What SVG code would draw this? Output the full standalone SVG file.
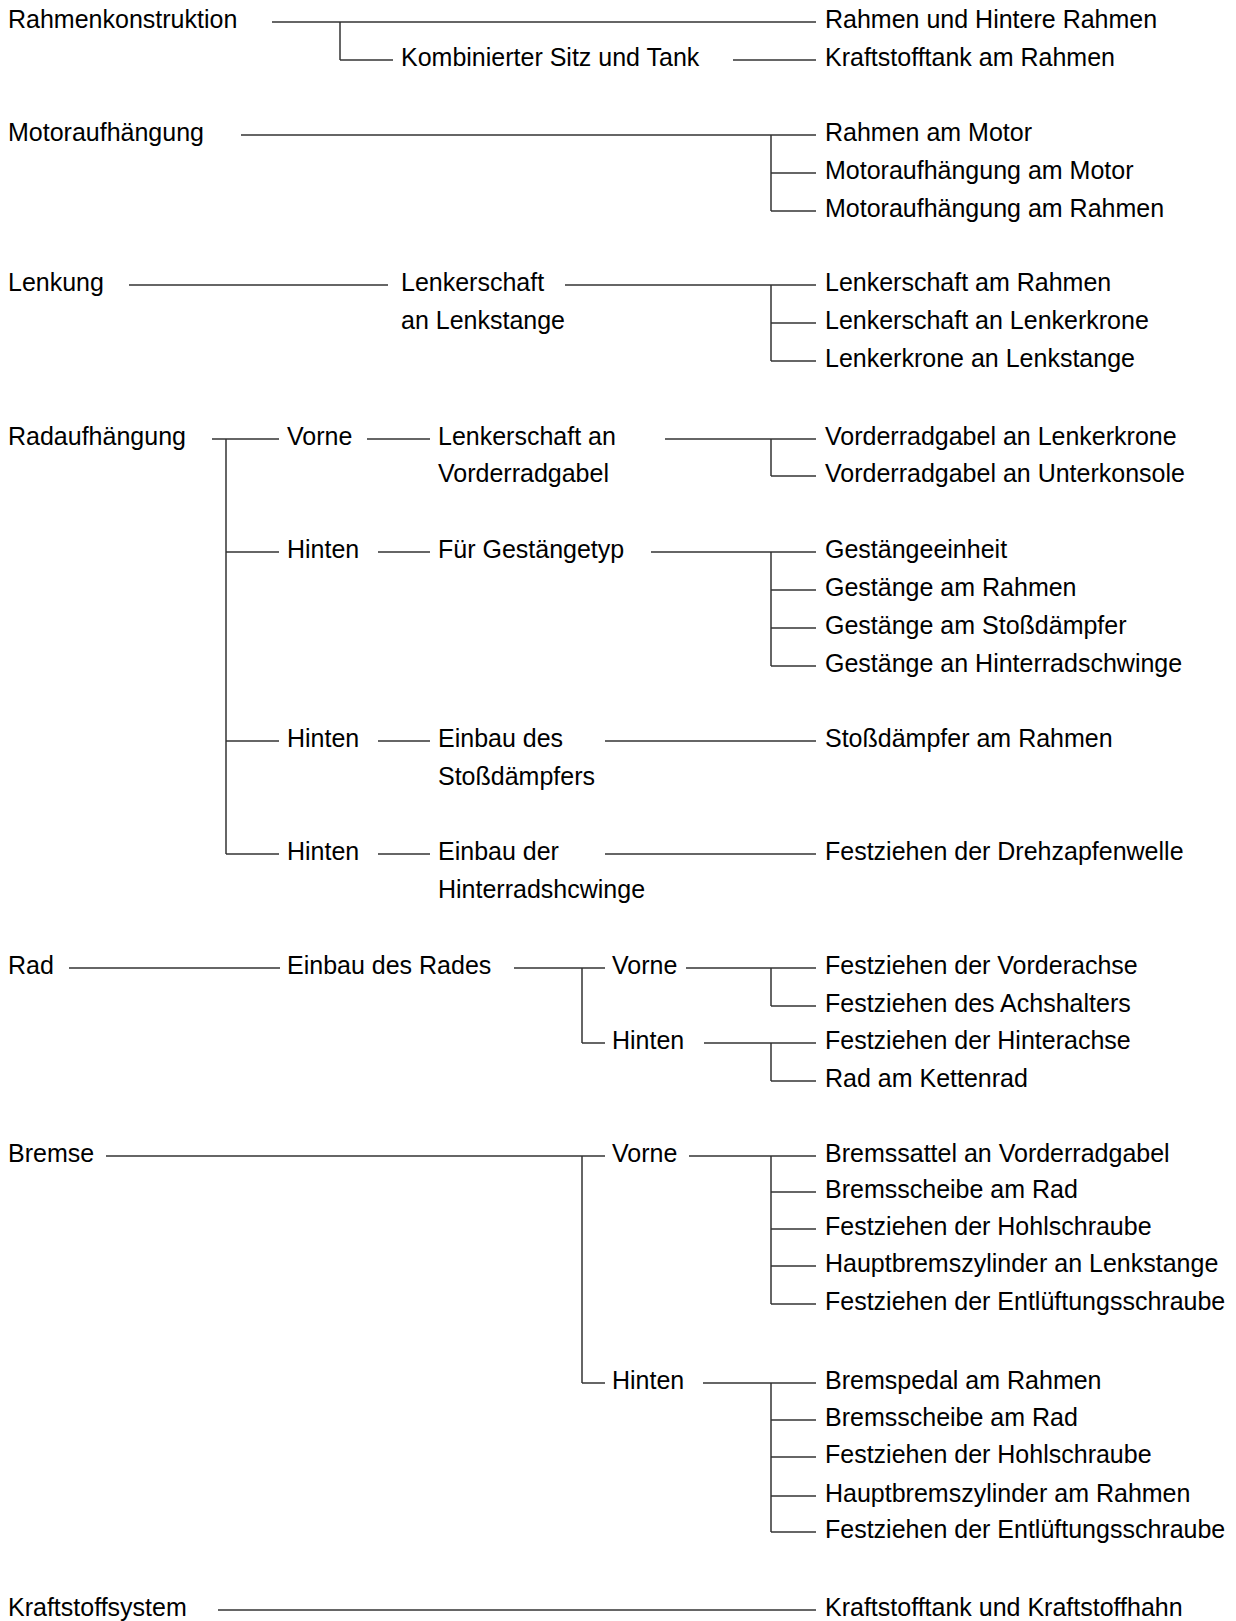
<svg xmlns="http://www.w3.org/2000/svg" width="1236" height="1621" viewBox="0 0 1236 1621">
<style>
text{font-family:"Liberation Sans",Arial,Helvetica,sans-serif;font-size:25px;fill:#000;dominant-baseline:alphabetic}
.c line{stroke:#333;stroke-width:1.5;fill:none}
</style>
<rect width="1236" height="1621" fill="#fff"/>
<g id="connectors" class="c">
<line x1="272" y1="22" x2="816" y2="22"/>
<line x1="340" y1="22" x2="340" y2="60"/>
<line x1="340" y1="60" x2="393" y2="60"/>
<line x1="733" y1="60" x2="816" y2="60"/>
<line x1="241" y1="135" x2="816" y2="135"/>
<line x1="771" y1="135" x2="771" y2="211"/>
<line x1="771" y1="173" x2="816" y2="173"/>
<line x1="771" y1="211" x2="816" y2="211"/>
<line x1="129" y1="285" x2="388" y2="285"/>
<line x1="565" y1="285" x2="816" y2="285"/>
<line x1="771" y1="285" x2="771" y2="361"/>
<line x1="771" y1="323" x2="816" y2="323"/>
<line x1="771" y1="361" x2="816" y2="361"/>
<line x1="212" y1="439" x2="279" y2="439"/>
<line x1="226" y1="439" x2="226" y2="854"/>
<line x1="226" y1="552" x2="279" y2="552"/>
<line x1="226" y1="741" x2="279" y2="741"/>
<line x1="226" y1="854" x2="279" y2="854"/>
<line x1="367" y1="439" x2="430" y2="439"/>
<line x1="665" y1="439" x2="816" y2="439"/>
<line x1="771" y1="439" x2="771" y2="476"/>
<line x1="771" y1="476" x2="816" y2="476"/>
<line x1="378" y1="552" x2="430" y2="552"/>
<line x1="651" y1="552" x2="816" y2="552"/>
<line x1="771" y1="552" x2="771" y2="666"/>
<line x1="771" y1="590" x2="816" y2="590"/>
<line x1="771" y1="628" x2="816" y2="628"/>
<line x1="771" y1="666" x2="816" y2="666"/>
<line x1="378" y1="741" x2="430" y2="741"/>
<line x1="605" y1="741" x2="816" y2="741"/>
<line x1="378" y1="854" x2="430" y2="854"/>
<line x1="605" y1="854" x2="816" y2="854"/>
<line x1="69" y1="968" x2="280" y2="968"/>
<line x1="514" y1="968" x2="605" y2="968"/>
<line x1="582" y1="968" x2="582" y2="1043"/>
<line x1="582" y1="1043" x2="605" y2="1043"/>
<line x1="686" y1="968" x2="816" y2="968"/>
<line x1="771" y1="968" x2="771" y2="1006"/>
<line x1="771" y1="1006" x2="816" y2="1006"/>
<line x1="704" y1="1043" x2="816" y2="1043"/>
<line x1="771" y1="1043" x2="771" y2="1081"/>
<line x1="771" y1="1081" x2="816" y2="1081"/>
<line x1="106" y1="1156" x2="605" y2="1156"/>
<line x1="582" y1="1156" x2="582" y2="1383"/>
<line x1="582" y1="1383" x2="605" y2="1383"/>
<line x1="689" y1="1156" x2="816" y2="1156"/>
<line x1="771" y1="1156" x2="771" y2="1304"/>
<line x1="771" y1="1192" x2="816" y2="1192"/>
<line x1="771" y1="1229" x2="816" y2="1229"/>
<line x1="771" y1="1266" x2="816" y2="1266"/>
<line x1="771" y1="1304" x2="816" y2="1304"/>
<line x1="703" y1="1383" x2="816" y2="1383"/>
<line x1="771" y1="1383" x2="771" y2="1532"/>
<line x1="771" y1="1420" x2="816" y2="1420"/>
<line x1="771" y1="1457" x2="816" y2="1457"/>
<line x1="771" y1="1496" x2="816" y2="1496"/>
<line x1="771" y1="1532" x2="816" y2="1532"/>
<line x1="218" y1="1610" x2="816" y2="1610"/>
</g>
<g id="n-rahmenkonstruktion"><text x="8" y="28">Rahmenkonstruktion</text></g>
<g id="n-kombinierter"><text x="401" y="66">Kombinierter Sitz und Tank</text></g>
<g id="n-motoraufhaengung"><text x="8" y="141">Motoraufhängung</text></g>
<g id="n-lenkung"><text x="8" y="291">Lenkung</text></g>
<g id="n-lenkerschaft"><text x="401" y="291">Lenkerschaft</text><text x="401" y="329">an Lenkstange</text></g>
<g id="n-radaufhaengung"><text x="8" y="445">Radaufhängung</text></g>
<g id="n-rv-vorne"><text x="287" y="445">Vorne</text></g>
<g id="n-rv-lenkerschaft"><text x="438" y="445">Lenkerschaft an</text><text x="438" y="482">Vorderradgabel</text></g>
<g id="n-rh1"><text x="287" y="558">Hinten</text></g>
<g id="n-gestaengetyp"><text x="438" y="558">Für Gestängetyp</text></g>
<g id="n-rh2"><text x="287" y="747">Hinten</text></g>
<g id="n-einbau-stoss"><text x="438" y="747">Einbau des</text><text x="438" y="785">Stoßdämpfers</text></g>
<g id="n-rh3"><text x="287" y="860">Hinten</text></g>
<g id="n-einbau-schwinge"><text x="438" y="860">Einbau der</text><text x="438" y="898">Hinterradshcwinge</text></g>
<g id="n-rad"><text x="8" y="974">Rad</text></g>
<g id="n-einbau-rades"><text x="287" y="974">Einbau des Rades</text></g>
<g id="n-rad-vorne"><text x="612" y="974">Vorne</text></g>
<g id="n-rad-hinten"><text x="612" y="1049">Hinten</text></g>
<g id="n-bremse"><text x="8" y="1162">Bremse</text></g>
<g id="n-br-vorne"><text x="612" y="1162">Vorne</text></g>
<g id="n-br-hinten"><text x="612" y="1389">Hinten</text></g>
<g id="n-kraftstoffsystem"><text x="8" y="1616">Kraftstoffsystem</text></g>
<g id="n-right">
<text x="825" y="28">Rahmen und Hintere Rahmen</text>
<text x="825" y="66">Kraftstofftank am Rahmen</text>
<text x="825" y="141">Rahmen am Motor</text>
<text x="825" y="179">Motoraufhängung am Motor</text>
<text x="825" y="217">Motoraufhängung am Rahmen</text>
<text x="825" y="291">Lenkerschaft am Rahmen</text>
<text x="825" y="329">Lenkerschaft an Lenkerkrone</text>
<text x="825" y="367">Lenkerkrone an Lenkstange</text>
<text x="825" y="445">Vorderradgabel an Lenkerkrone</text>
<text x="825" y="482">Vorderradgabel an Unterkonsole</text>
<text x="825" y="558">Gestängeeinheit</text>
<text x="825" y="596">Gestänge am Rahmen</text>
<text x="825" y="634">Gestänge am Stoßdämpfer</text>
<text x="825" y="672">Gestänge an Hinterradschwinge</text>
<text x="825" y="747">Stoßdämpfer am Rahmen</text>
<text x="825" y="860">Festziehen der Drehzapfenwelle</text>
<text x="825" y="974">Festziehen der Vorderachse</text>
<text x="825" y="1012">Festziehen des Achshalters</text>
<text x="825" y="1049">Festziehen der Hinterachse</text>
<text x="825" y="1087">Rad am Kettenrad</text>
<text x="825" y="1162">Bremssattel an Vorderradgabel</text>
<text x="825" y="1198">Bremsscheibe am Rad</text>
<text x="825" y="1235">Festziehen der Hohlschraube</text>
<text x="825" y="1272">Hauptbremszylinder an Lenkstange</text>
<text x="825" y="1310">Festziehen der Entlüftungsschraube</text>
<text x="825" y="1389">Bremspedal am Rahmen</text>
<text x="825" y="1426">Bremsscheibe am Rad</text>
<text x="825" y="1463">Festziehen der Hohlschraube</text>
<text x="825" y="1502">Hauptbremszylinder am Rahmen</text>
<text x="825" y="1538">Festziehen der Entlüftungsschraube</text>
<text x="825" y="1616">Kraftstofftank und Kraftstoffhahn</text>
</g>
</svg>
